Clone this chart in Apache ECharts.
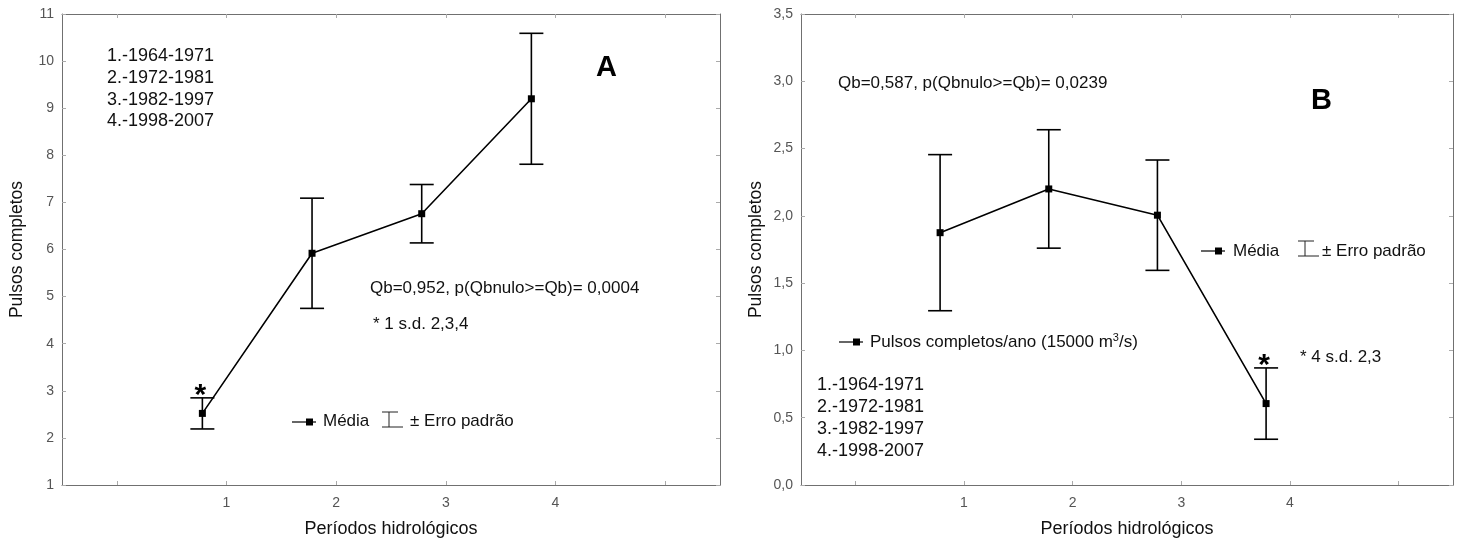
<!DOCTYPE html>
<html><head><meta charset="utf-8">
<script src="https://cdn.jsdelivr.net/npm/echarts@6/dist/echarts.min.js"></script>
<style>html,body{margin:0;padding:0;background:#fff}#c{width:1461px;height:543px}</style>
</head><body><div id="c"></div>
<script>
// ---- data ----
const xPositions = [0.78, 1.78, 2.78, 3.78];
const xTickValues = [0, 1, 2, 3, 4, 5];
const xTickLabels = [1, 2, 3, 4];
const meanA = [2.52, 5.92, 6.76, 9.20];
const errA  = [0.33, 1.17, 0.62, 1.39];
const starA = [true, false, false, false];
const meanB = [1.875, 2.20, 2.005, 0.605];
const errB  = [0.58, 0.44, 0.41, 0.265];
const starB = [false, false, false, true];
const periods = ['1.-1964-1971', '2.-1972-1981', '3.-1982-1997', '4.-1998-2007'];
const statA = 'Qb=0,952, p(Qbnulo>=Qb)= 0,0004';
const statB = 'Qb=0,587, p(Qbnulo>=Qb)= 0,0239';
const noteA = '* 1 s.d. 2,3,4';
const noteB = '* 4 s.d. 2,3';

const FONT = "'Liberation Sans', Arial, sans-serif";
const chart = echarts.init(document.getElementById('c'), null, {renderer: 'canvas'});

function errRender(stars) {
  return function (params, api) {
    const i = params.dataIndex;
    const x = api.value(0);
    const pHi = api.coord([x, api.value(2)]);
    const pLo = api.coord([x, api.value(1)]);
    const hw = 12;
    const st = {stroke: '#000', lineWidth: 1.6};
    const ch = [
      {type: 'line', shape: {x1: pHi[0], y1: pHi[1], x2: pLo[0], y2: pLo[1]}, style: st},
      {type: 'line', shape: {x1: pHi[0] - hw, y1: pHi[1], x2: pHi[0] + hw, y2: pHi[1]}, style: st},
      {type: 'line', shape: {x1: pLo[0] - hw, y1: pLo[1], x2: pLo[0] + hw, y2: pLo[1]}, style: st}
    ];
    if (stars[i]) {
      ch.push({type: 'text', x: pHi[0] - 2, y: pHi[1] - 2,
        style: {text: '*', fill: '#000', font: 'bold 30px ' + FONT, align: 'center', verticalAlign: 'middle'}});
    }
    return {type: 'group', children: ch};
  };
}

function xAx(grid, pos) {
  return {
    gridIndex: grid, type: 'value', position: pos, min: -0.5, max: 5.5,
    axisLine: {show: true, onZero: false, lineStyle: {color: '#707070', width: 1}},
    axisTick: {show: true, inside: true, length: 4, customValues: xTickValues, lineStyle: {color: '#aaa'}},
    axisLabel: pos === 'bottom'
      ? {show: true, customValues: xTickLabels, color: '#555', fontSize: 14, fontFamily: FONT, margin: 11}
      : {show: false},
    splitLine: {show: false},
    name: pos === 'bottom' ? 'Períodos hidrológicos' : '',
    nameLocation: 'middle', nameGap: 35,
    nameTextStyle: {fontSize: 18, color: '#111', fontFamily: FONT}
  };
}
function yAx(grid, pos, min, max, interval, fmt) {
  return {
    gridIndex: grid, type: 'value', position: pos, min: min, max: max, interval: interval,
    axisLine: {show: true, onZero: false, lineStyle: {color: '#707070', width: 1}},
    axisTick: {show: true, inside: true, length: 4, lineStyle: {color: '#aaa'}},
    axisLabel: pos === 'left'
      ? {show: true, color: '#555', fontSize: 14, fontFamily: FONT, margin: 8, formatter: fmt}
      : {show: false},
    splitLine: {show: false},
    name: pos === 'left' ? 'Pulsos completos' : '',
    nameLocation: 'middle', nameGap: pos === 'left' ? 36 : 0, nameRotate: 90,
    nameTextStyle: {fontSize: 17.5, color: '#111', fontFamily: FONT}
  };
}
const fmtA = v => String(v);
const fmtB = v => v.toFixed(1).replace('.', ',');

function txt(x, y, text, size, extra) {
  return Object.assign({type: 'text', x: x, y: y,
    style: {text: text, fill: '#111', font: (size || 17) + 'px ' + FONT, verticalAlign: 'middle'}}, extra || {});
}
function meanIcon(x, y) {
  return {type: 'group', x: x, y: y, children: [
    {type: 'line', shape: {x1: 0, y1: 0, x2: 24, y2: 0}, style: {stroke: '#000', lineWidth: 1.2}},
    {type: 'rect', shape: {x: 14, y: -3.5, width: 7, height: 7}, style: {fill: '#000'}}
  ]};
}
function errIcon(x, y) {
  return {type: 'group', x: x, y: y, children: [
    {type: 'line', shape: {x1: 0, y1: -8, x2: 16, y2: -8}, style: {stroke: '#222', lineWidth: 1}},
    {type: 'line', shape: {x1: 7, y1: -8, x2: 7, y2: 7}, style: {stroke: '#222', lineWidth: 1}},
    {type: 'line', shape: {x1: 0, y1: 7, x2: 21, y2: 7}, style: {stroke: '#222', lineWidth: 1}}
  ]};
}

const graphics = [];
periods.forEach((p, i) => graphics.push(txt(107, 56.5 + i * 21.6, p, 18)));
periods.forEach((p, i) => graphics.push(txt(817, 385.5 + i * 21.8, p, 18)));
graphics.push({type: 'text', x: 596, y: 68, style: {text: 'A', fill: '#000', font: 'bold 29px ' + FONT, verticalAlign: 'middle'}});
graphics.push({type: 'text', x: 1311, y: 101, style: {text: 'B', fill: '#000', font: 'bold 29px ' + FONT, verticalAlign: 'middle'}});
graphics.push(txt(370, 288, statA));
graphics.push(txt(838, 83, statB));
graphics.push(txt(373, 324, noteA));
graphics.push(txt(1300, 357, noteB));
graphics.push(meanIcon(292, 422));
graphics.push(txt(323, 421, 'Média'));
graphics.push(errIcon(382, 420));
graphics.push(txt(410, 421, '± Erro padrão'));
graphics.push(meanIcon(1201, 251));
graphics.push(txt(1233, 251, 'Média'));
graphics.push(errIcon(1298, 249));
graphics.push(txt(1322, 251, '± Erro padrão'));
graphics.push(meanIcon(839, 342));
graphics.push({type: 'text', x: 870, y: 342, style: {
  text: 'Pulsos completos/ano (15000 m{sup|3}/s)', fill: '#111', font: '17px ' + FONT, verticalAlign: 'middle',
  rich: {sup: {fontSize: 11, fontFamily: FONT, fill: '#111', verticalAlign: 'top', padding: [0, 0, 9, 0]}}}});

const option = {
  backgroundColor: '#fff',
  animation: false,
  grid: [
    {left: 62, top: 14, width: 658, height: 472},
    {left: 801, top: 14, width: 652, height: 472}
  ],
  xAxis: [xAx(0, 'bottom'), xAx(0, 'top'), xAx(1, 'bottom'), xAx(1, 'top')],
  yAxis: [yAx(0, 'left', 1, 11, 1, fmtA), yAx(0, 'right', 1, 11, 1, fmtA),
          yAx(1, 'left', 0, 3.5, 0.5, fmtB), yAx(1, 'right', 0, 3.5, 0.5, fmtB)],
  series: [
    {type: 'custom', xAxisIndex: 0, yAxisIndex: 0, renderItem: errRender(starA),
     data: xPositions.map((x, i) => [x, meanA[i] - errA[i], meanA[i] + errA[i]]), z: 2},
    {type: 'line', xAxisIndex: 0, yAxisIndex: 0, data: xPositions.map((x, i) => [x, meanA[i]]),
     symbol: 'rect', symbolSize: 7, lineStyle: {color: '#000', width: 1.6}, itemStyle: {color: '#000'}, z: 3},
    {type: 'custom', xAxisIndex: 2, yAxisIndex: 2, renderItem: errRender(starB),
     data: xPositions.map((x, i) => [x, meanB[i] - errB[i], meanB[i] + errB[i]]), z: 2},
    {type: 'line', xAxisIndex: 2, yAxisIndex: 2, data: xPositions.map((x, i) => [x, meanB[i]]),
     symbol: 'rect', symbolSize: 7, lineStyle: {color: '#000', width: 1.6}, itemStyle: {color: '#000'}, z: 3}
  ],
  graphic: graphics
};
chart.setOption(option);
</script>
</body></html>
